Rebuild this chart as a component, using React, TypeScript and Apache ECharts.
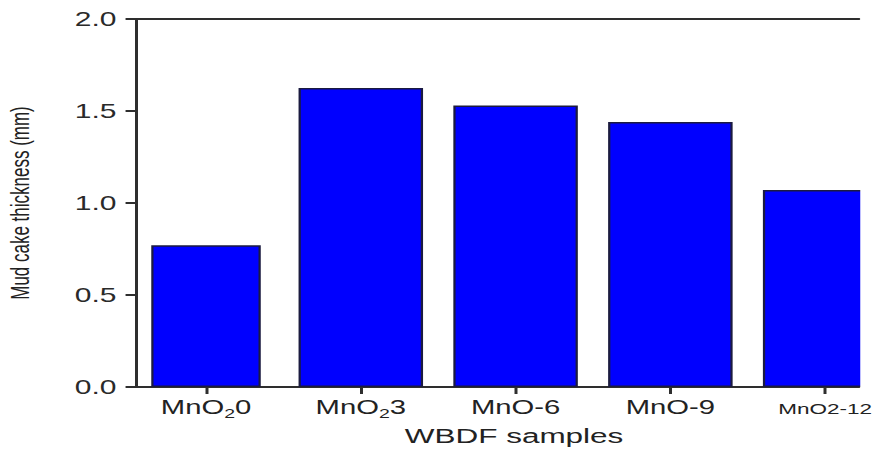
import React, { useEffect, useRef } from "react";
import * as echarts from "echarts";

// ---- data ----
const categories = ["MnO₂0", "MnO₂3", "MnO-6", "MnO-9", "MnO2-12"];
const categoryRich = ["{t|MnO}{s|2}{t|0}", "{t|MnO}{s|2}{t|3}", "{t|MnO-6}", "{t|MnO-9}", "{m|MnO2-12}"];
const thickness = [0.77, 1.625, 1.53, 1.44, 1.07];
const yTicks = [0, 0.5, 1.0, 1.5, 2.0];
const xPositions = [0, 1, 2, 3, 4];

const STRETCH = 1.5;
const W = 600; // inner chart width (before horizontal stretch); outer box clips at 878px
const H = 451;
const FONT = "'Liberation Sans', Arial, sans-serif";
const AXIS_COLOR = "#2e2e2e";

export default function App() {
  const ref = useRef<HTMLDivElement>(null);
  useEffect(() => {
    if (!ref.current) return;
    const chart = echarts.init(ref.current, undefined, { renderer: "svg", width: W, height: H });
    const xMin = -0.452;
    const xMax = 4.219;
    const gridLeft = 90.7;
    const gridRightEdge = 572.7;
    const gridTop = 19;
    const gridBottom = 64;
    const firstData = thickness.map((v, i) => (i === 0 ? [xPositions[i], v] : null)).filter(Boolean);
    const restData = thickness.map((v, i) => (i !== 0 ? [xPositions[i], v] : null)).filter(Boolean);
    chart.setOption({
      animation: false,
      backgroundColor: "#ffffff",
      grid: {
        left: gridLeft,
        right: W - gridRightEdge,
        top: gridTop,
        bottom: gridBottom,
        containLabel: false,
        outerBoundsMode: "none",
      },
      graphic: [
        {
          type: "rect",
          z: 100,
          shape: { x: gridRightEdge + 0.8, y: 0, width: 100, height: H - gridBottom + 1 },
          style: { fill: "#ffffff" },
        },
      ],
      xAxis: [
        {
          type: "value",
          min: xMin,
          max: xMax,
          position: "bottom",
          splitLine: { show: false },
          axisLine: { show: true, onZero: false, lineStyle: { color: AXIS_COLOR, width: 2 } },
          axisTick: { show: true, length: 7, customValues: xPositions, lineStyle: { color: AXIS_COLOR, width: 2 } },
          axisLabel: {
            show: true,
            customValues: xPositions,
            margin: 9,
            formatter: (v: number) => categoryRich[Math.round(v)] ?? "",
            rich: {
              t: { fontFamily: FONT, fontSize: 19.5, color: "#222", lineHeight: 22 },
              s: { fontFamily: FONT, fontSize: 13, color: "#222", padding: [14, 0, 0, 0], lineHeight: 22 },
              m: { fontFamily: FONT, fontSize: 15, color: "#222", lineHeight: 22, padding: [3, 0, 0, 0] },
            },
          },
          name: "WBDF samples",
          nameLocation: "middle",
          nameGap: 36,
          nameTextStyle: { fontFamily: FONT, fontSize: 21, color: "#222", padding: [0, 0, 0, 22] },
        },
        {
          type: "value",
          min: xMin,
          max: xMax,
          position: "top",
          splitLine: { show: false },
          axisLine: { show: true, onZero: false, lineStyle: { color: AXIS_COLOR, width: 2 } },
          axisTick: { show: false },
          axisLabel: { show: false },
        },
        {
          type: "value",
          min: xMin,
          max: xMax,
          show: false,
          splitLine: { show: false },
        },
      ],
      yAxis: {
        type: "value",
        min: 0,
        max: 2,
        interval: 0.5,
        splitLine: { show: false },
        axisLine: { show: true, onZero: false, lineStyle: { color: AXIS_COLOR, width: 2 } },
        axisTick: { show: true, length: 7, lineStyle: { color: AXIS_COLOR, width: 2 } },
        axisLabel: {
          margin: 13,
          fontFamily: FONT,
          fontSize: 20,
          color: "#2a2a2a",
          formatter: (v: number) => (yTicks.includes(v) ? v.toFixed(1) : ""),
        },
        name: "Mud cake thickness (mm)",
        nameLocation: "middle",
        nameGap: 69,
        nameTextStyle: { fontFamily: FONT, fontSize: 17, color: "#222" },
      },
      series: [
        {
          type: "bar",
          name: categories[0],
          xAxisIndex: 2,
          data: firstData,
          barWidth: 73,
          itemStyle: { color: "#0000ff", borderColor: "#1b1b40", borderWidth: 1.5 },
        },
        {
          type: "bar",
          name: "samples",
          xAxisIndex: 0,
          data: restData,
          barWidth: 83,
          itemStyle: { color: "#0000ff", borderColor: "#1b1b40", borderWidth: 1.5 },
        },
      ],
    });
    return () => chart.dispose();
  }, []);
  return (
    <div
      style={{
        position: "fixed",
        left: 0,
        top: 0,
        width: 878,
        height: H,
        overflow: "hidden",
        background: "#fff",
      }}
    >
      <div
        ref={ref}
        style={{
          width: W,
          height: H,
          transform: `scaleX(${STRETCH})`,
          transformOrigin: "0 0",
        }}
      />
    </div>
  );
}
